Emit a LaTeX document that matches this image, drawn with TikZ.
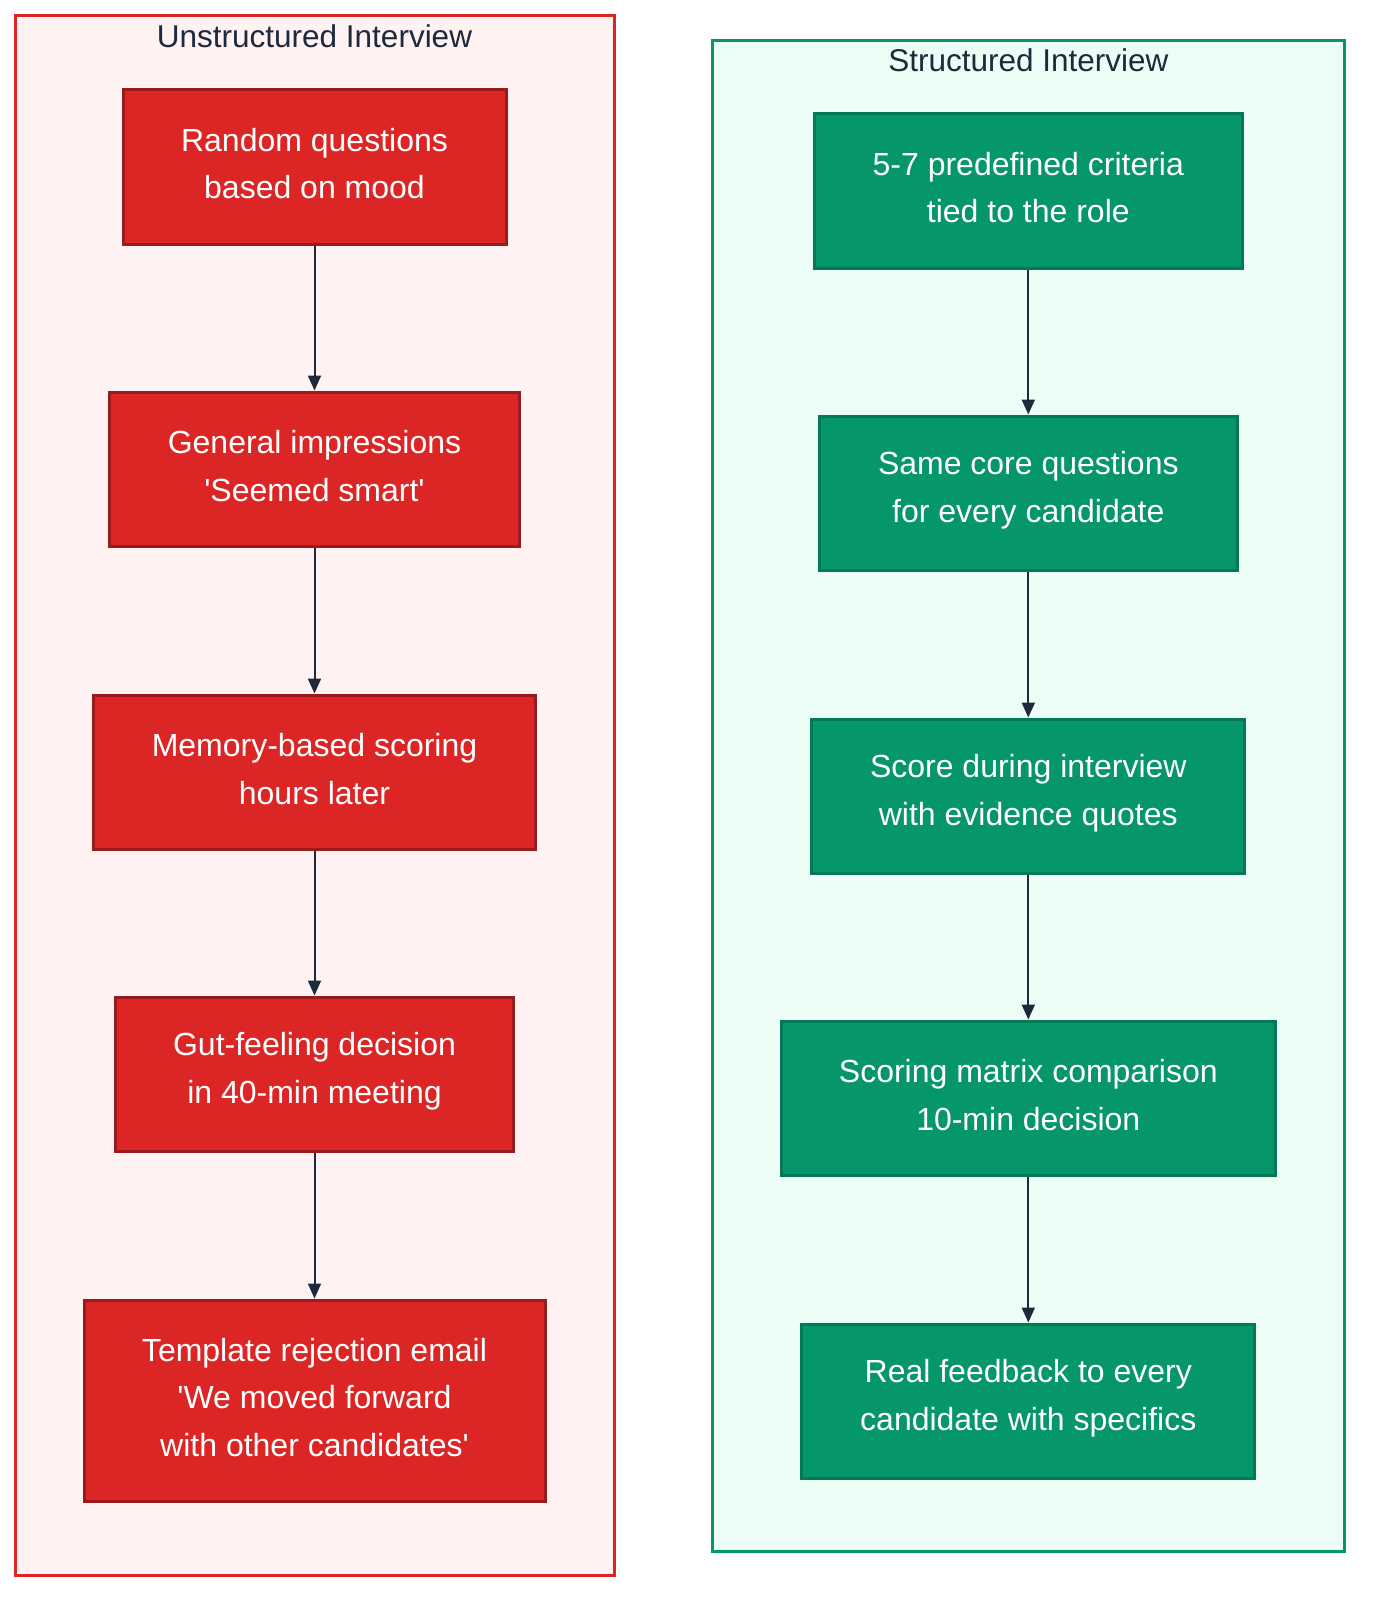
\documentclass[tikz,border=0pt]{standalone}
\usepackage{fontspec}
\setmainfont{Liberation Sans}
\usetikzlibrary{arrows.meta}
\definecolor{redfill}{HTML}{DC2626}
\definecolor{redline}{HTML}{991B1B}
\definecolor{redbg}{HTML}{FEF2F2}
\definecolor{greenfill}{HTML}{059669}
\definecolor{greenline}{HTML}{047857}
\definecolor{greenbg}{HTML}{ECFDF5}
\definecolor{ink}{HTML}{1E293B}
\newcommand{\sq}{\textquotesingle}
\begin{document}
\begin{tikzpicture}[x=1pt,y=-1pt,
  txt/.style={font=\fontsize{32}{47.5}\selectfont, align=center, text=white, inner sep=0pt},
  redbox/.style={draw=redline, fill=redfill, line width=3pt, inner sep=0pt},
  greenbox/.style={draw=greenline, fill=greenfill, line width=3pt, inner sep=0pt},
  cltitle/.style={font=\fontsize{31.5}{40}\selectfont, text=ink, inner sep=0pt},
  flow/.style={draw=ink, line width=2pt, -{Triangle[length=15pt,width=13pt]}}
]
\useasboundingbox (0,0) rectangle (1376,1610);
% clusters
\draw[line width=3pt, draw=redfill, fill=redbg] (15.4,15.4) rectangle (614,1575);
\draw[line width=3pt, draw=greenfill, fill=greenbg] (712.7,40) rectangle (1344,1551.7);
\node[cltitle] (tl) at (314.5,36) {Unstructured Interview};
\node[cltitle] (tr) at (1028.3,60.5) {Structured Interview};
% left
\node[redbox, minimum width=383pt, minimum height=155pt] (l1) at (314.5,166.5) {};
\node[txt] (l1t) at ([yshift=3pt]l1.center) {Random questions\\based on mood};
\node[redbox, minimum width=410pt, minimum height=154pt] (l2) at (314.5,469) {};
\node[txt] (l2t) at ([yshift=3pt]l2.center) {General impressions\\\sq Seemed smart\sq};
\node[redbox, minimum width=441.5pt, minimum height=154pt] (l3) at (314.5,772) {};
\node[txt] (l3t) at ([yshift=3pt]l3.center) {Memory-based scoring\\hours later};
\node[redbox, minimum width=398.5pt, minimum height=154pt] (l4) at (314.5,1074) {};
\node[txt] (l4t) at ([yshift=3pt]l4.center) {Gut-feeling decision\\in 40-min meeting};
\node[redbox, minimum width=461pt, minimum height=201pt] (l5) at (314.5,1400.5) {};
\node[txt] (l5t) at ([yshift=3pt]l5.center) {Template rejection email\\\sq We moved forward\\with other candidates\sq};
% right
\node[greenbox, minimum width=428.5pt, minimum height=155pt] (r1) at (1028.3,190.5) {};
\node[txt] (r1t) at ([yshift=3pt]r1.center) {5-7 predefined criteria\\tied to the role};
\node[greenbox, minimum width=417.5pt, minimum height=154pt] (r2) at (1028.3,493) {};
\node[txt] (r2t) at ([yshift=3pt]r2.center) {Same core questions\\for every candidate};
\node[greenbox, minimum width=433pt, minimum height=154pt] (r3) at (1028.3,796) {};
\node[txt] (r3t) at ([yshift=3pt]r3.center) {Score during interview\\with evidence quotes};
\node[greenbox, minimum width=493.5pt, minimum height=154pt] (r4) at (1028.3,1098) {};
\node[txt] (r4t) at ([yshift=3pt]r4.center) {Scoring matrix comparison\\10-min decision};
\node[greenbox, minimum width=453pt, minimum height=154pt] (r5) at (1028.3,1401) {};
\node[txt] (r5t) at ([yshift=3pt]r5.center) {Real feedback to every\\candidate with specifics};
% connectors
\draw[flow] (l1.south) -- (l2.north);
\draw[flow] (l2.south) -- (l3.north);
\draw[flow] (l3.south) -- (l4.north);
\draw[flow] (l4.south) -- (l5.north);
\draw[flow] (r1.south) -- (r2.north);
\draw[flow] (r2.south) -- (r3.north);
\draw[flow] (r3.south) -- (r4.north);
\draw[flow] (r4.south) -- (r5.north);
\end{tikzpicture}
\end{document}
